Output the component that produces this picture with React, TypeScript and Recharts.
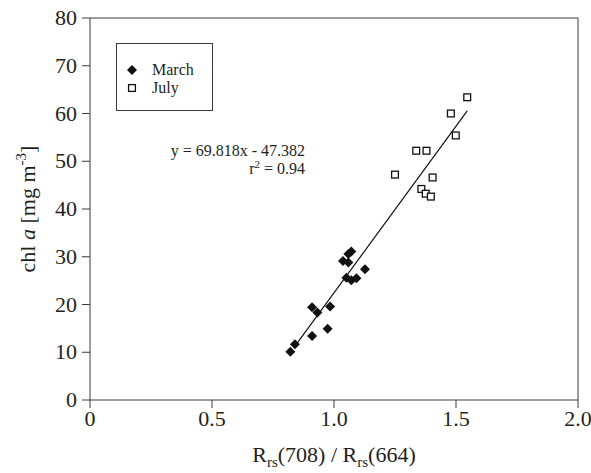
import React from 'react';
import {
  ScatterChart, Scatter, XAxis, YAxis, ReferenceLine,
} from 'recharts';

// ── Data ──────────────────────────────────────────────────────────────────

const marchX = [0.821, 0.840, 0.910, 0.974, 0.910, 0.932, 0.984, 1.051, 1.071, 1.092, 1.127, 1.037, 1.059, 1.059, 1.071];
const marchY = [10.1, 11.7, 13.4, 14.9, 19.4, 18.3, 19.6, 25.6, 25.1, 25.5, 27.4, 29.1, 28.8, 30.6, 31.1];

const julyX = [1.546, 1.479, 1.499, 1.337, 1.379, 1.250, 1.404, 1.358, 1.376, 1.397];
const julyY = [63.4, 60.0, 55.4, 52.2, 52.2, 47.2, 46.6, 44.2, 43.2, 42.6];

// fitted line y = 69.818x - 47.382, drawn over the data range
const slope = 69.818;
const intercept = -47.382;
const fitRange = [0.852, 1.546];

const xTicks = [0, 0.5, 1, 1.5, 2];
const yTicks = [0, 10, 20, 30, 40, 50, 60, 70, 80];

const march = marchX.map((x, i) => ({ x, y: marchY[i] }));
const july = julyX.map((x, i) => ({ x, y: julyY[i] }));
const fit = fitRange.map((x) => ({ x, y: slope * x + intercept }));

// ── Style ─────────────────────────────────────────────────────────────────

const FONT = '"Liberation Serif", "Times New Roman", serif';
const AXIS = '#3a3a3a';
const INK = '#231f20';

// ── Ticks ─────────────────────────────────────────────────────────────────

function XTick({ x, y, payload }: any) {
  const v = payload?.value ?? 0;
  return (
    <text x={x} y={(y ?? 0) + 16} textAnchor="middle" fontSize={22} fontFamily={FONT} fill={INK}>
      {v === 0 ? '0' : v.toFixed(1)}
    </text>
  );
}

function YTick({ x, y, payload }: any) {
  return (
    <text x={(x ?? 0) - 3} y={(y ?? 0) + 7} textAnchor="end" fontSize={22} fontFamily={FONT} fill={INK}>
      {payload?.value}
    </text>
  );
}

// ── Marker shapes ─────────────────────────────────────────────────────────

function Diamond({ cx, cy }: { cx?: number; cy?: number }) {
  const x = cx ?? 0, y = cy ?? 0, r = 5;
  return <polygon points={`${x},${y - r} ${x + r},${y} ${x},${y + r} ${x - r},${y}`} fill="#111" />;
}

function OpenSquare({ cx, cy }: { cx?: number; cy?: number }) {
  const x = cx ?? 0, y = cy ?? 0, h = 3.4;
  return <rect x={x - h} y={y - h} width={h * 2} height={h * 2} fill="#fff" stroke="#111" strokeWidth={1.3} />;
}

// ── Axis titles ───────────────────────────────────────────────────────────

function XTitle({ viewBox }: any) {
  const cx = (viewBox?.x ?? 0) + (viewBox?.width ?? 0) / 2;
  return (
    <text x={cx} y={462} textAnchor="middle" fontSize={22} fontFamily={FONT} fill={INK}>
      <tspan>R</tspan>
      <tspan fontSize={15} dy={5}>rs</tspan>
      <tspan dy={-5}>(708) / R</tspan>
      <tspan fontSize={15} dy={5}>rs</tspan>
      <tspan dy={-5}>(664)</tspan>
    </text>
  );
}

function YTitle() {
  return (
    <text x={0} y={0} transform="translate(35,209) rotate(-90)" textAnchor="middle" fontSize={22} fontFamily={FONT} fill={INK}>
      <tspan>chl </tspan>
      <tspan fontStyle="italic">a</tspan>
      <tspan> [mg m</tspan>
      <tspan fontSize={15} dy={-9}>-3</tspan>
      <tspan dy={9}>]</tspan>
    </text>
  );
}

// ── Legend box ────────────────────────────────────────────────────────────

function LegendBox() {
  const row = (icon: React.ReactNode, label: string) => (
    <div style={{ display: 'flex', alignItems: 'center', height: 18 }}>
      <svg width={32} height={18}>{icon}</svg>
      <span style={{ marginLeft: 3 }}>{label}</span>
    </div>
  );
  return (
    <div style={{
      position: 'absolute', left: 116, top: 43,
      width: 97, height: 68, boxSizing: 'border-box', border: `1px solid ${AXIS}`,
      fontFamily: FONT, fontSize: 16, color: INK, paddingTop: 17, lineHeight: '18px',
    }}>
      {row(<Diamond cx={15} cy={9} />, 'March')}
      {row(<OpenSquare cx={15} cy={9} />, 'July')}
    </div>
  );
}

// ── Chart ─────────────────────────────────────────────────────────────────

export default function App() {
  return (
    <div style={{ position: 'absolute', left: 0, top: 0, width: 591, height: 473, background: '#fff' }}>
      <ScatterChart width={591} height={473} margin={{ top: 18, right: 13, bottom: 0, left: 0 }}>
        <XAxis
          type="number" dataKey="x" domain={[0, 2]} ticks={xTicks} height={73}
          stroke={AXIS} tickSize={8} tick={<XTick />}
          label={<XTitle />}
        />
        <YAxis
          type="number" dataKey="y" domain={[0, 80]} ticks={yTicks} width={90}
          stroke={AXIS} tickSize={8} tick={<YTick />}
          label={<YTitle />}
        />
        <ReferenceLine y={80} stroke={AXIS} />
        <ReferenceLine x={2} stroke={AXIS} />
        <Scatter name="fit" data={fit} line={{ stroke: '#111', strokeWidth: 1.2 }} shape={() => <g />} legendType="none" isAnimationActive={false} />
        <Scatter name="March" data={march} shape={Diamond} isAnimationActive={false} />
        <Scatter name="July" data={july} shape={OpenSquare} isAnimationActive={false} />
      </ScatterChart>
      <LegendBox />
      <svg width={591} height={473} style={{ position: 'absolute', left: 0, top: 0, pointerEvents: 'none' }}>
        <text x={305} y={156} textAnchor="end" fontSize={16} fontFamily={FONT} fill={INK}>y = 69.818x - 47.382</text>
        <text x={305} y={174} textAnchor="end" fontSize={16} fontFamily={FONT} fill={INK}>
          <tspan>r</tspan>
          <tspan fontSize={11} dy={-6}>2</tspan>
          <tspan dy={6}> = 0.94</tspan>
        </text>
      </svg>
    </div>
  );
}
